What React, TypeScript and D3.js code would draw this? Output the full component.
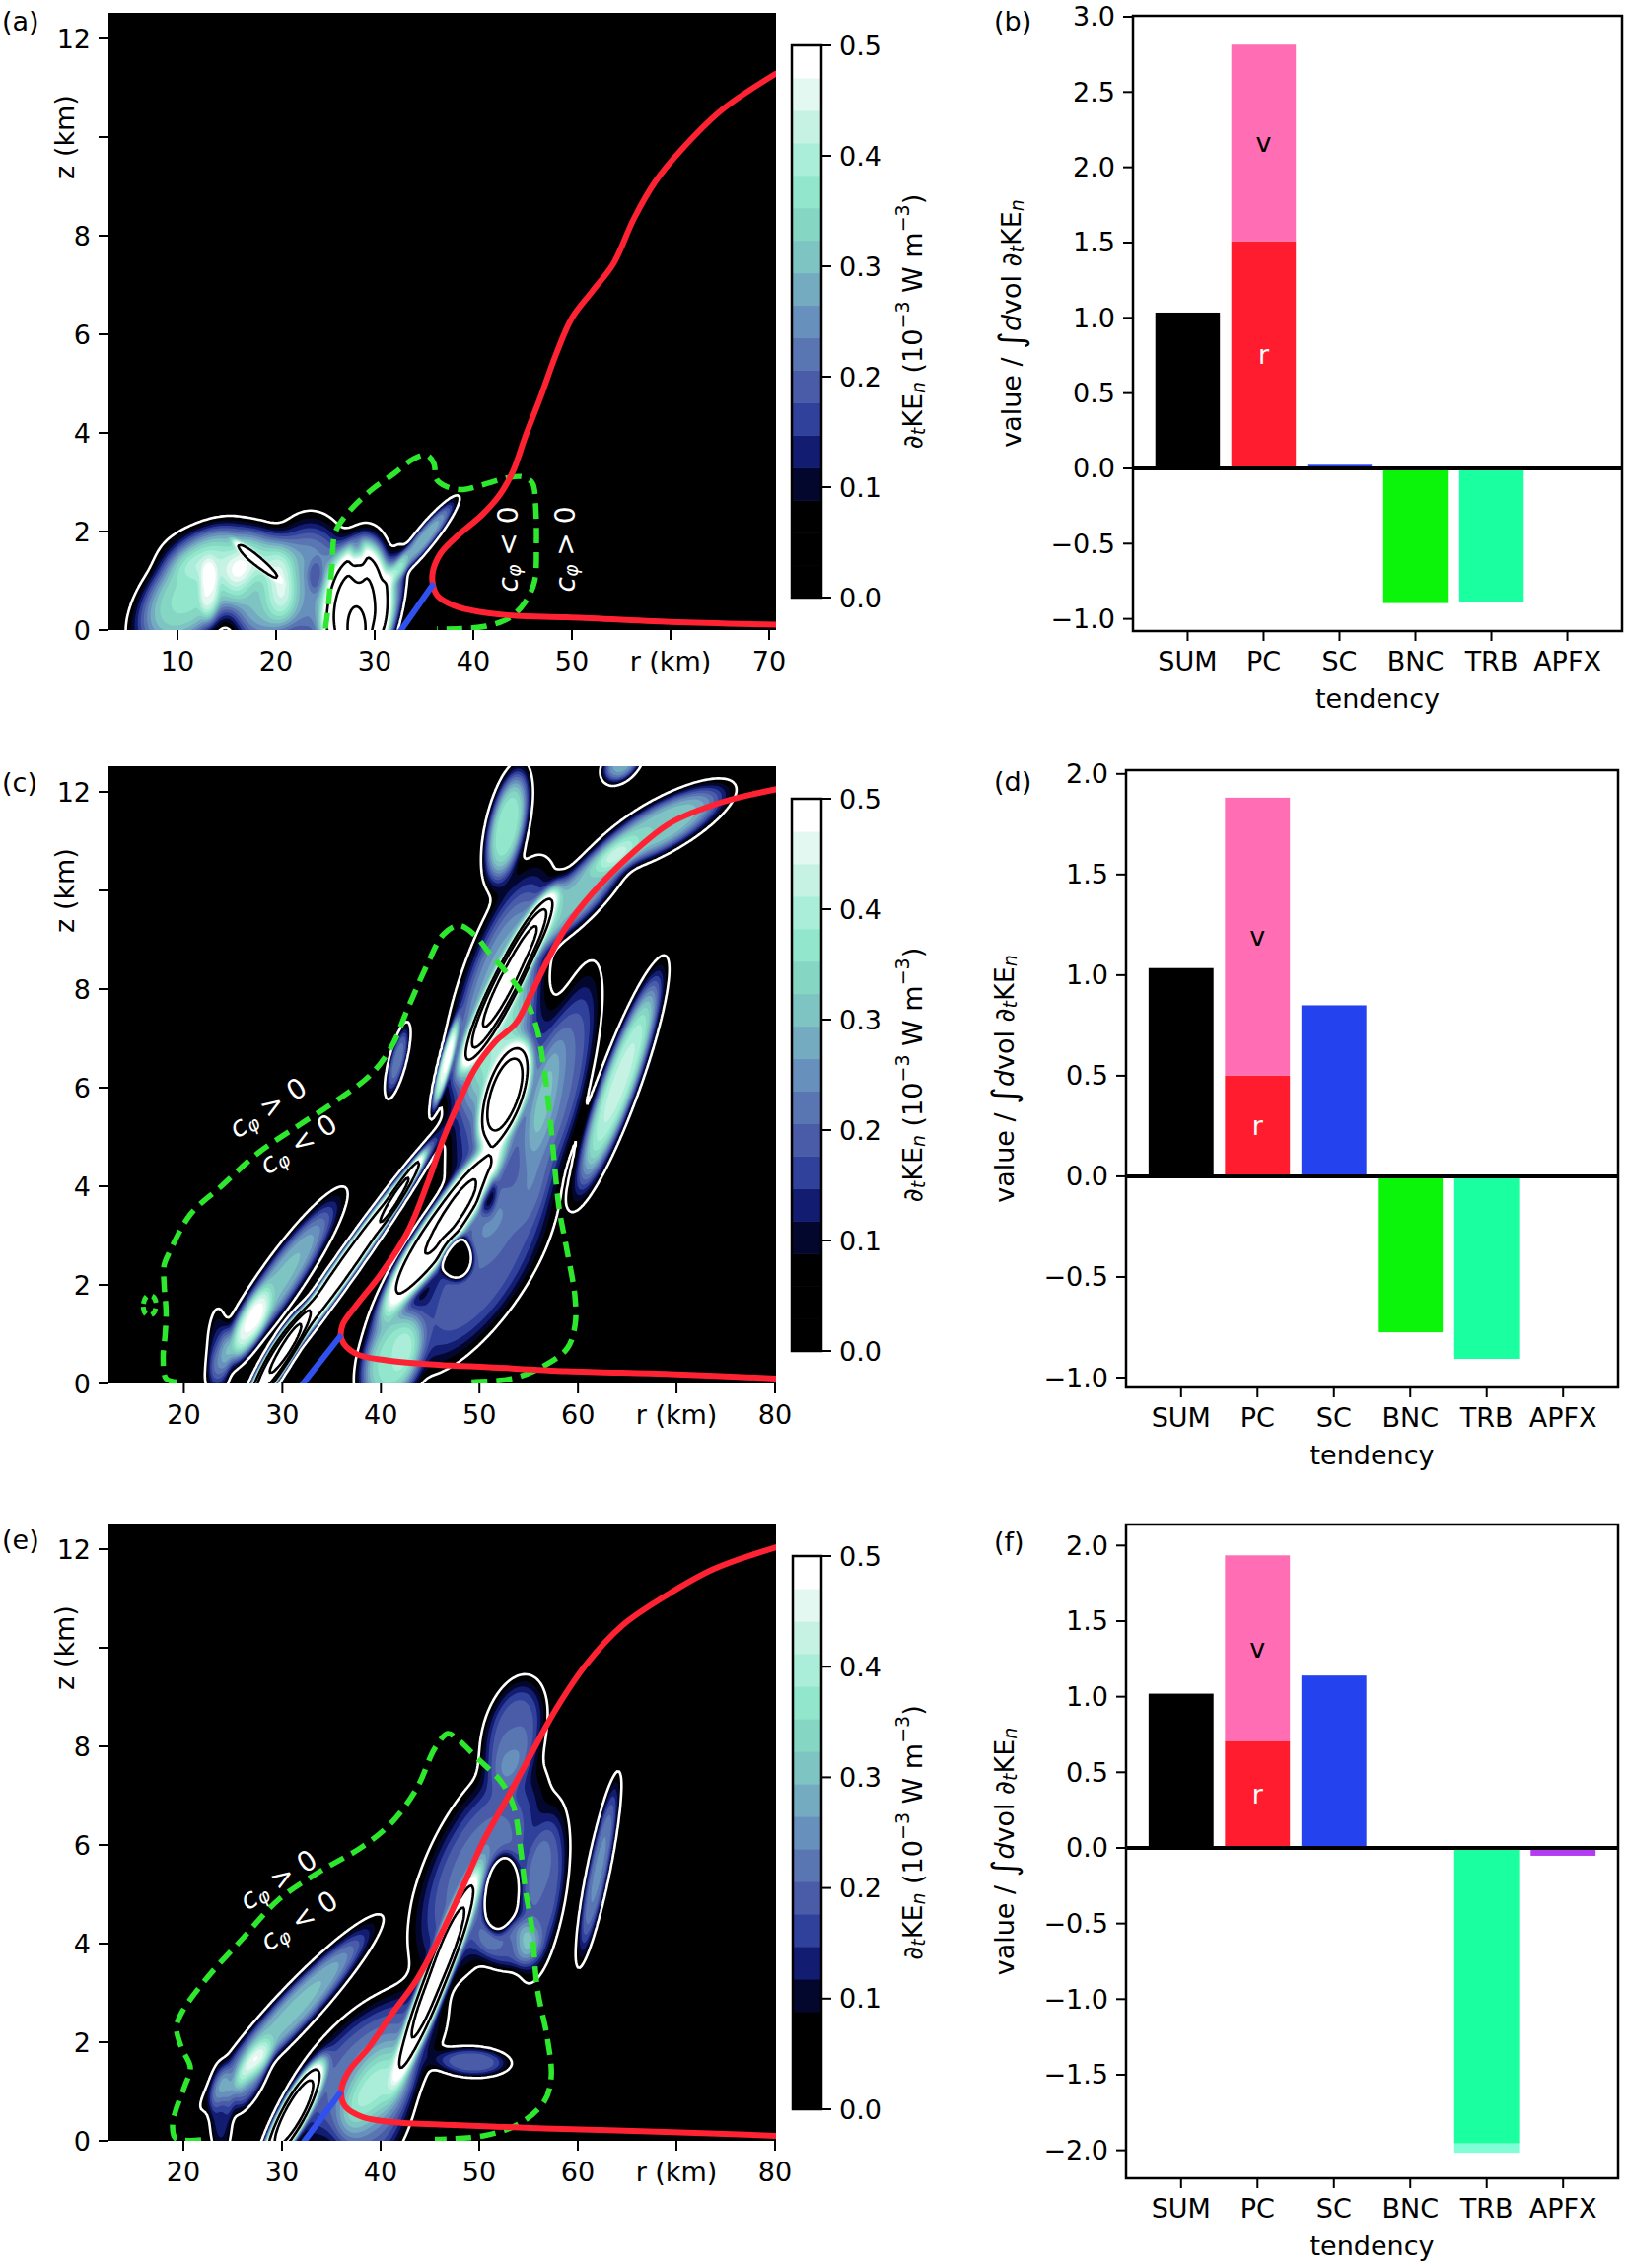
import { useMemo } from "react";
import * as d3 from "d3";

type Blob = [number, number, number, number, number, number]; // r0, z0, amp, sr, sz, tilt (dr/dz)
type Pt = [number, number];

const FONT = "'DejaVu Sans', sans-serif";
const FS = 27;

// colour bands of the filled contours, 17 bands from 0 to 0.5
const BAND_COLORS = [
  "#000000", "#000000", "#000000", "#03072e", "#121c70", "#30419c", "#4a5ca8", "#5a76b2",
  "#6890bc", "#74abc0", "#7ec4c2", "#86d6c4", "#92e6cc", "#aaeed9", "#c6f2e4", "#e4f8f2", "#ffffff",
];
const BAND_STEP = 0.5 / 17;
const CBAR_TICKS = [0, 0.1, 0.2, 0.3, 0.4, 0.5];
const WHITE_LEVEL = 0.05;
const BLACK_LEVELS = [0.6, 0.9, 1.3];
const Z_TICKS = [0, 2, 4, 6, 8, 10, 12];
const Z_MAX = 12.52;

// ---- panel (a) ----
const blobsA: Blob[] = [
  [11.5, 0.8, 0.36, 4.0, 1.05, 2.5],
  [13.2, 0.8, 0.12, 0.8, 0.5, 0],
  [18.5, 0.8, 0.3, 2.8, 0.95, 0],
  [23.5, 0.95, 0.25, 3.5, 1.1, 0],
  [15, 1.6, 0.08, 6, 0.5, 0],
  [18, 1.42, 0.45, 0.6, 0.3, -5.5],
  [28.2, 0.3, 1.0, 2.6, 1.2, 0.5],
  [28.2, 0.0, 0.5, 0.9, 0.45, 0],
  [28.3, 1.35, -0.2, 0.7, 0.35, 0],
  [35, 1.85, 0.28, 1.0, 0.65, 3.8],
  [31.8, 0.7, 0.2, 1.0, 0.8, 0.8],
  [24, 1.1, -0.06, 0.7, 0.3, 0],
];
const redA: Pt[] = [
  [70.8, 0.11], [60, 0.165], [49.5, 0.26], [44.3, 0.29], [40.6, 0.37], [38, 0.5], [36.4, 0.69],
  [35.9, 0.92], [35.9, 1.19], [36.7, 1.56], [38.5, 1.93], [40.9, 2.34], [42.7, 2.75], [44, 3.21],
  [45.3, 3.94], [46.9, 4.77], [48.4, 5.6], [50, 6.33], [52.1, 6.88], [54.2, 7.43], [56.3, 8.35],
  [58.4, 9.08], [61, 9.72], [65.2, 10.55], [70.8, 11.3],
];
const blueA: Pt[] = [[32.5, -0.05], [36, 0.95]];
const greenA: Pt[] = [
  [25, 0.03], [25.3, 0.51], [25.67, 1.31], [26, 1.98], [27.3, 2.38], [29.7, 2.85], [32, 3.18],
  [34, 3.48], [35.3, 3.55], [36, 3.38], [36.3, 3.05], [37.3, 2.91], [39, 2.85], [41, 2.95],
  [43.3, 3.08], [45, 3.11], [46, 2.98], [46.3, 2.58], [46.4, 1.78], [46.2, 0.98], [45.3, 0.58],
  [43.7, 0.25], [41.3, 0.08], [38.7, 0.03], [36.3, 0.02],
];
const cphiA: [string, number, number, number][] = [["<", 43.5, 1.64, -90], [">", 49.3, 1.64, -90]];
const xTicksA = [10, 20, 30, 40, 50, 60, 70];
const xLabelsA = ["10", "20", "30", "40", "50", "r (km)", "70"];

// ---- panel (c) ----
const blobsC: Blob[] = [
  [29.5, 2.0, 0.3, 2.0, 1.45, 3.3],
  [26.8, 1.2, 0.2, 1.2, 0.6, 2.0],
  [23.5, 0.6, 0.12, 1.0, 0.8, 0],
  [29.5, 0.5, 1.0, 1.1, 0.8, 2.8],
  [36.5, 2.4, 0.75, 1.1, 1.9, 3.5],
  [50, 2.2, 0.2, 4.2, 1.6, 2.8],
  [52.5, 5.5, 0.2, 4.0, 2.0, 1.2],
  [52, 8.0, 0.28, 3.2, 2.0, 1.5],
  [41, 0.5, 0.36, 2.5, 0.9, 1.0],
  [46, 3.1, 0.9, 1.8, 1.3, 3.3],
  [47.7, 2.55, -0.35, 1.3, 0.35, 0],
  [50.8, 3.9, -0.12, 0.8, 0.4, 0],
  [52.6, 5.85, 0.95, 1.6, 0.8, 1.5],
  [52.9, 8.2, 1.15, 1.2, 1.3, 2.5],
  [42, 3.9, 0.4, 0.55, 0.6, 3.0],
  [46.5, 6.45, 0.4, 0.5, 0.75, 1.3],
  [52.8, 11.3, 0.38, 1.6, 0.95, 1.0],
  [60, 9.9, 0.3, 2.5, 0.9, 4.0],
  [68.5, 11.3, 0.32, 3.5, 0.7, 6.0],
  [64.5, 12.6, 0.28, 1.5, 0.35, 2.0],
  [64.2, 6.1, 0.42, 1.6, 1.8, 1.75],
  [58.3, 6.0, 0.2, 2.2, 2.0, 1.2],
  [41.7, 6.55, 0.22, 0.7, 0.6, 1.2],
];
const redC: Pt[] = [
  [80.3, 0.1], [69.4, 0.19], [58.9, 0.25], [51, 0.33], [45.8, 0.38], [40.6, 0.47], [37.4, 0.61],
  [36, 0.9], [36.1, 1.18], [37.4, 1.56], [40, 2.22], [42.7, 3.07], [44.8, 4.1], [46.3, 4.95],
  [47.9, 5.7], [49.5, 6.37], [51.6, 6.93], [53.7, 7.31], [55.2, 7.88], [56.8, 8.54], [58.9, 9.29],
  [61.5, 9.95], [65.2, 10.7], [69.4, 11.37], [74.6, 11.79], [80.3, 12.06],
];
const blueC: Pt[] = [[31.9, -0.05], [36, 0.99]];
const greenC: Pt[] = [
  [19.3, 0.03], [18.2, 0.1], [17.9, 0.5], [18.1, 0.99], [18.2, 1.46], [18.0, 2.0], [18.0, 2.4],
  [18.6, 2.69], [20.7, 3.44], [23.8, 4.0], [27.5, 4.67], [31.7, 5.24], [35.3, 5.71], [39, 6.27],
  [41.1, 6.84], [42.7, 7.59], [44.8, 8.54], [46.3, 9.1], [47.9, 9.29], [49.5, 9.1], [51, 8.73],
  [53.1, 8.25], [54.7, 7.78], [55.8, 7.22], [56.5, 6.46], [57.1, 5.52], [57.6, 4.48], [58.1, 3.54],
  [58.9, 2.69], [59.7, 1.75], [59.7, 1.18], [58.9, 0.71], [56.3, 0.33], [53.1, 0.09], [48.4, 0.03],
];
const greenLoopC: Pt[] = [[16.0, 1.45], [15.9, 1.62], [16.3, 1.78], [16.9, 1.76], [17.2, 1.6], [16.9, 1.42], [16.4, 1.38]];
const cphiC: [string, number, number, number][] = [[">", 28.5, 5.6, -33], ["<", 31.6, 4.86, -33]];
const xTicksCE = [20, 30, 40, 50, 60, 70, 80];
const xLabelsCE = ["20", "30", "40", "50", "60", "r (km)", "80"];

// ---- panel (e) ----
const blobsE: Blob[] = [
  [31, 2.6, 0.3, 2.2, 1.45, 4.4],
  [26.8, 1.3, 0.22, 1.3, 0.6, 2.0],
  [23.8, 0.6, 0.13, 1.0, 0.8, 0],
  [31, 0.5, 1.0, 1.25, 0.85, 2.5],
  [38.5, 1.5, 0.22, 5.0, 1.3, 3.0],
  [39.5, 0.6, 0.2, 3.0, 1.1, 1.2],
  [45.8, 3.4, 0.9, 1.1, 1.55, 1.9],
  [50, 5.5, 0.22, 4.5, 1.8, 1.8],
  [53.5, 8.3, 0.2, 2.5, 0.9, 1.0],
  [56.5, 5.0, 0.2, 1.8, 1.4, 0.8],
  [53, 4.0, 0.18, 2.5, 0.45, 0],
  [52.2, 5.0, -0.5, 1.3, 0.6, 0.5],
  [49.3, 1.6, 0.2, 3.1, 0.25, -1.0],
  [62.1, 5.5, 0.24, 0.9, 1.5, 1.0],
];
const redE: Pt[] = [
  [80.3, 0.1], [68.8, 0.18], [56.6, 0.25], [47.4, 0.32], [41.2, 0.38], [38.2, 0.48], [36.4, 0.7],
  [36, 1.0], [36.7, 1.39], [38.8, 1.89], [41.2, 2.59], [43.7, 3.28], [46.1, 4.18], [48.6, 5.27],
  [50.4, 6.07], [52.9, 6.97], [55.3, 7.86], [57.8, 8.76], [60.8, 9.65], [64.5, 10.45], [68.8, 11.04],
  [73.7, 11.59], [80.3, 12.05],
];
const blueE: Pt[] = [[32.1, -0.05], [36, 1.0]];
const greenE: Pt[] = [
  [21.8, 0.02], [19.2, 0.05], [18.9, 0.3], [19.2, 0.6], [20.1, 1.09], [20.7, 1.49], [19.8, 1.89],
  [19.3, 2.29], [19.8, 2.59], [22.3, 3.28], [25.9, 4.08], [29.6, 4.88], [33.9, 5.47], [38.2, 5.97],
  [41.2, 6.47], [43.7, 7.16], [45.5, 7.96], [46.8, 8.26], [47.7, 8.16], [49.8, 7.76], [52.3, 7.26],
  [53.5, 6.77], [54.1, 6.07], [54.7, 5.07], [55.3, 4.38], [55.9, 3.08], [56.9, 2.09], [57.3, 1.29],
  [56.6, 0.8], [54.1, 0.35], [50.4, 0.1], [45.5, 0.03],
];
const cphiE: [string, number, number, number][] = [[">", 29.6, 5.3, -33], ["<", 31.7, 4.47, -33]];

// ---- bar panels ----
const CATEGORIES = ["SUM", "PC", "SC", "BNC", "TRB", "APFX"];
const BAR_COLORS = ["#000000", "#ff1c2e", "#2442ee", "#0af50a", "#1affa0", "#b43cf0"];
const PC_V_COLOR = "#ff6eb4";
const TRB_LIGHT = "#80ffd6";

const valuesB = [1.035, 2.815, 0.024, -0.895, -0.89, 0];
const pcRadialB = 1.51;
const ticksB = [-1, -0.5, 0, 0.5, 1, 1.5, 2, 2.5, 3];

const valuesD = [1.035, 1.882, 0.85, -0.775, -0.907, 0];
const pcRadialD = 0.502;
const ticksD = [-1, -0.5, 0, 0.5, 1, 1.5, 2];

const valuesF = [1.02, 1.935, 1.14, 0, -1.955, -0.052];
const pcRadialF = 0.708;
const trbExtraF = -2.016;
const ticksF = [-2, -1.5, -1, -0.5, 0, 0.5, 1, 1.5, 2];

function fieldValue(blobs: Blob[], r: number, z: number) {
  let s = 0;
  for (const [r0, z0, a, sr, sz, k] of blobs) {
    const u = (r - r0 - k * (z - z0)) / sr;
    const v = (z - z0) / sz;
    const q = u * u + v * v;
    if (q < 12) s += a * Math.exp(-0.5 * q * q);
  }
  return s < 0 ? 0 : s;
}

function CphiLabel({ x, y, rot, sign }: { x: number; y: number; rot: number; sign: string }) {
  return (
    <text transform={`translate(${x},${y}) rotate(${rot})`} textAnchor="middle" dominantBaseline="central"
      fill="white" fontSize={28} fontFamily={FONT}>
      <tspan fontStyle="italic">c</tspan>
      <tspan fontSize={19} dy={6} fontStyle="italic">φ</tspan>
      <tspan dy={-6}>{` ${sign} 0`}</tspan>
    </text>
  );
}

type ContourProps = {
  id: string;
  frame: [number, number, number, number];
  cbar: [number, number, number, number];
  xlim: [number, number];
  blobs: Blob[];
  red: Pt[];
  blue: Pt[];
  greens: Pt[][];
  greenLoops?: Pt[][];
  cphi: [string, number, number, number][];
  xticks: number[];
  xlabels: string[];
  letter: string;
  letterY: number;
};

function ContourPanel(p: ContourProps) {
  const [x0, x1, y0, y1] = p.frame;
  const xs = d3.scaleLinear().domain(p.xlim).range([x0, x1]);
  const ys = d3.scaleLinear().domain([0, Z_MAX]).range([y1, y0]);

  const shapes = useMemo(() => {
    const dr = 0.2, dz = 0.05;
    const rStart = p.xlim[0] - 1, zStart = -0.5;
    const nx = Math.ceil((p.xlim[1] + 1 - rStart) / dr) + 1;
    const nz = Math.ceil((Z_MAX + 0.8 - zStart) / dz) + 1;
    const values = new Float64Array(nx * nz);
    for (let j = 0; j < nz; j++) {
      const z = zStart + j * dz;
      for (let i = 0; i < nx; i++) values[i + j * nx] = fieldValue(p.blobs, rStart + i * dr, z);
    }
    const proj = d3.geoTransform({
      point(x: number, y: number) {
        (this as any).stream.point(xs(rStart + (x - 0.5) * dr), ys(zStart + (y - 0.5) * dz));
      },
    });
    const path = d3.geoPath(proj);
    const gen = d3.contours().size([nx, nz]);
    const fills = d3.range(3, 17).map((i) => ({ color: BAND_COLORS[i], d: path(gen.contour(values as any, i * BAND_STEP)) || "" }));
    const white = path(gen.contour(values as any, WHITE_LEVEL)) || "";
    const blacks = BLACK_LEVELS.map((t) => path(gen.contour(values as any, t)) || "");
    return { fills, white, blacks };
  }, [p.id]);

  const line = d3.line<Pt>().x((d) => xs(d[0])).y((d) => ys(d[1])).curve(d3.curveCatmullRom.alpha(0.5));
  const loop = d3.line<Pt>().x((d) => xs(d[0])).y((d) => ys(d[1])).curve(d3.curveCatmullRomClosed.alpha(0.5));

  const [c0, c1, cy0, cy1] = p.cbar;
  const cys = d3.scaleLinear().domain([0, 0.5]).range([cy1, cy0]);
  const clipId = `clip-${p.id}`;

  return (
    <g>
      <defs>
        <clipPath id={clipId}>
          <rect x={x0} y={y0} width={x1 - x0} height={y1 - y0} />
        </clipPath>
      </defs>
      <g clipPath={`url(#${clipId})`}>
        <rect x={x0} y={y0} width={x1 - x0} height={y1 - y0} fill="#000" />
        {shapes.fills.map((f, i) => <path key={i} d={f.d} fill={f.color} />)}
        <path d={shapes.white} fill="none" stroke="#fff" strokeWidth={2.6} />
        {shapes.blacks.map((d, i) => <path key={i} d={d} fill="none" stroke="#000" strokeWidth={2.6} />)}
        {p.greens.map((g, i) => (
          <path key={i} d={line(g) || ""} fill="none" stroke="#2ee82e" strokeWidth={5.5} strokeDasharray="16 9" />
        ))}
        {(p.greenLoops || []).map((g, i) => (
          <path key={i} d={loop(g) || ""} fill="none" stroke="#2ee82e" strokeWidth={5} strokeDasharray="8 6" />
        ))}
        <path d={line(p.red) || ""} fill="none" stroke="#ff2233" strokeWidth={6} />
        <path d={line(p.blue) || ""} fill="none" stroke="#3050f0" strokeWidth={6} />
        {p.cphi.map(([s, r, z, rot], i) => <CphiLabel key={i} x={xs(r)} y={ys(z)} rot={rot} sign={s} />)}
      </g>

      {/* x axis */}
      {p.xticks.map((t, i) => (
        <g key={i}>
          <line x1={xs(t)} x2={xs(t)} y1={y1} y2={y1 + 10} stroke="#000" strokeWidth={2} />
          <text x={xs(t)} y={y1 + 41} textAnchor="middle" fontSize={FS} fontFamily={FONT}>{p.xlabels[i]}</text>
        </g>
      ))}
      {/* y axis */}
      {Z_TICKS.map((t) => (
        <g key={t}>
          <line x1={x0 - 10} x2={x0} y1={ys(t)} y2={ys(t)} stroke="#000" strokeWidth={2} />
          {t === 10 ? (
            <text transform={`translate(${x0 - 45},${ys(t)}) rotate(-90)`} textAnchor="middle" dominantBaseline="central"
              fontSize={FS} fontFamily={FONT}>z (km)</text>
          ) : (
            <text x={x0 - 18} y={ys(t)} textAnchor="end" dominantBaseline="central" fontSize={FS} fontFamily={FONT}>{t}</text>
          )}
        </g>
      ))}
      <text x={2} y={p.letterY} fontSize={FS} fontFamily={FONT}>{p.letter}</text>

      {/* colour bar */}
      {BAND_COLORS.map((c, i) => (
        <rect key={i} x={c0} y={cys((i + 1) * BAND_STEP)} width={c1 - c0} height={cys(i * BAND_STEP) - cys((i + 1) * BAND_STEP) + 0.6} fill={c} />
      ))}
      <rect x={c0} y={cy0} width={c1 - c0} height={cy1 - cy0} fill="none" stroke="#000" strokeWidth={2.5} />
      {CBAR_TICKS.map((t) => (
        <g key={t}>
          <line x1={c1} x2={c1 + 10} y1={cys(t)} y2={cys(t)} stroke="#000" strokeWidth={2} />
          <text x={c1 + 18} y={cys(t)} dominantBaseline="central" fontSize={FS} fontFamily={FONT}>{t.toFixed(1)}</text>
        </g>
      ))}
      <text transform={`translate(925,${(cy0 + cy1) / 2}) rotate(-90)`} textAnchor="middle" dominantBaseline="central"
        fontSize={FS} fontFamily={FONT}>
        ∂<tspan fontSize={19} dy={6} fontStyle="italic">t</tspan>
        <tspan dy={-6}>KE</tspan>
        <tspan fontSize={19} dy={6} fontStyle="italic">n</tspan>
        <tspan dy={-6}> (10</tspan>
        <tspan fontSize={19} dy={-10}>−3</tspan>
        <tspan dy={10}> W m</tspan>
        <tspan fontSize={19} dy={-10}>−3</tspan>
        <tspan dy={10}>)</tspan>
      </text>
    </g>
  );
}

type BarProps = {
  frame: [number, number, number, number];
  ylim: [number, number];
  ticks: number[];
  values: number[];
  pcRadial: number;
  trbExtra?: number;
  letter: string;
  letterY: number;
};

function BarPanel(p: BarProps) {
  const [x0, x1, y0, y1] = p.frame;
  const xs = d3.scaleLinear().domain([-0.72, 5.72]).range([x0, x1]);
  const ys = d3.scaleLinear().domain(p.ylim).range([y1, y0]);
  const hw = 0.425;
  const bar = (i: number, a: number, b: number, color: string, key: string) => (
    <rect key={key} x={xs(i - hw)} width={xs(i + hw) - xs(i - hw)} y={ys(Math.max(a, b))}
      height={Math.abs(ys(a) - ys(b))} fill={color} />
  );
  const pcTotal = p.values[1];
  return (
    <g>
      {p.values.map((v, i) => (i === 1 ? null : bar(i, 0, v, BAR_COLORS[i], `b${i}`)))}
      {bar(1, 0, p.pcRadial, BAR_COLORS[1], "pcr")}
      {bar(1, p.pcRadial, pcTotal, PC_V_COLOR, "pcv")}
      {p.trbExtra !== undefined && bar(4, p.values[4], p.trbExtra, TRB_LIGHT, "trbx")}
      <text x={xs(1)} y={ys(p.pcRadial / 2)} textAnchor="middle" dominantBaseline="central" fill="#fff"
        fontSize={FS} fontFamily={FONT}>r</text>
      <text x={xs(1)} y={ys((p.pcRadial + pcTotal) / 2)} textAnchor="middle" dominantBaseline="central" fill="#000"
        fontSize={FS} fontFamily={FONT}>v</text>
      <line x1={x0} x2={x1} y1={ys(0)} y2={ys(0)} stroke="#000" strokeWidth={4} />
      <rect x={x0} y={y0} width={x1 - x0} height={y1 - y0} fill="none" stroke="#000" strokeWidth={2.5} />

      {CATEGORIES.map((c, i) => (
        <g key={c}>
          <line x1={xs(i)} x2={xs(i)} y1={y1} y2={y1 + 10} stroke="#000" strokeWidth={2} />
          <text x={xs(i)} y={y1 + 40} textAnchor="middle" fontSize={FS} fontFamily={FONT}>{c}</text>
        </g>
      ))}
      <text x={(x0 + x1) / 2} y={y1 + 78} textAnchor="middle" fontSize={FS} fontFamily={FONT}>tendency</text>
      {p.ticks.map((t) => (
        <g key={t}>
          <line x1={x0 - 10} x2={x0} y1={ys(t)} y2={ys(t)} stroke="#000" strokeWidth={2} />
          <text x={x0 - 18} y={ys(t)} textAnchor="end" dominantBaseline="central" fontSize={FS} fontFamily={FONT}>
            {t.toFixed(1).replace("-", "−")}
          </text>
        </g>
      ))}
      <text transform={`translate(${x0 - 124},${(y0 + y1) / 2}) rotate(-90)`} textAnchor="middle" dominantBaseline="central"
        fontSize={FS} fontFamily={FONT}>
        value / <tspan fontSize={34}>∫</tspan><tspan fontStyle="italic">d</tspan>vol ∂
        <tspan fontSize={19} dy={6} fontStyle="italic">t</tspan>
        <tspan dy={-6}>KE</tspan>
        <tspan fontSize={19} dy={6} fontStyle="italic">n</tspan>
      </text>
      <text x={1008} y={p.letterY} fontSize={FS} fontFamily={FONT}>{p.letter}</text>
    </g>
  );
}

export default function App() {
  return (
    <div style={{ position: "absolute", left: 0, top: 0, background: "#fff" }}>
      <svg width={1649} height={2300} style={{ display: "block" }}>
        <rect width={1649} height={2300} fill="#fff" />
        <ContourPanel id="a" frame={[110, 787, 13, 639]} cbar={[803, 833, 46, 606]} xlim={[3, 70.7]}
          blobs={blobsA} red={redA} blue={blueA} greens={[greenA]} cphi={cphiA}
          xticks={xTicksA} xlabels={xLabelsA} letter="(a)" letterY={31} />
        <ContourPanel id="c" frame={[110, 787, 777, 1403]} cbar={[803, 833, 810, 1370]} xlim={[12.35, 80.1]}
          blobs={blobsC} red={redC} blue={blueC} greens={[greenC]} greenLoops={[greenLoopC]} cphi={cphiC}
          xticks={xTicksCE} xlabels={xLabelsCE} letter="(c)" letterY={803} />
        <ContourPanel id="e" frame={[110, 787, 1545, 2171]} cbar={[804, 833, 1578, 2139]} xlim={[12.4, 80.1]}
          blobs={blobsE} red={redE} blue={blueE} greens={[greenE]} cphi={cphiE}
          xticks={xTicksCE} xlabels={xLabelsCE} letter="(e)" letterY={1571} />
        <BarPanel frame={[1149, 1645, 16, 640]} ylim={[-1.081, 3.0065]} ticks={ticksB} values={valuesB}
          pcRadial={pcRadialB} letter="(b)" letterY={31} />
        <BarPanel frame={[1142, 1641, 781, 1407]} ylim={[-1.049, 2.0186]} ticks={ticksD} values={valuesD}
          pcRadial={pcRadialD} letter="(d)" letterY={802} />
        <BarPanel frame={[1142, 1641, 1546, 2209]} ylim={[-2.185, 2.139]} ticks={ticksF} values={valuesF}
          pcRadial={pcRadialF} trbExtra={trbExtraF} letter="(f)" letterY={1573} />
      </svg>
    </div>
  );
}
